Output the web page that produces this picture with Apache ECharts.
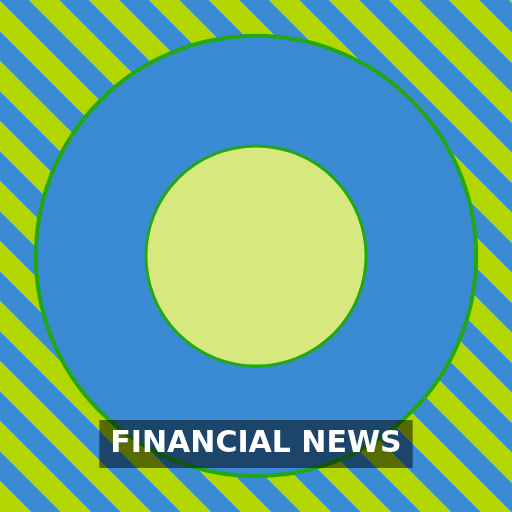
<!DOCTYPE html>
<html>
<head>
<meta charset="utf-8">
<script src="https://cdn.jsdelivr.net/npm/echarts@6/dist/echarts.min.js"></script>
<style>html,body{margin:0;padding:0;}#main{width:512px;height:512px;}</style>
</head>
<body>
<div id="main"></div>
<script>
const titleText = 'FINANCIAL NEWS';
const outerData = [{ name: 'Outer', value: 1 }];
const innerData = [{ name: 'Inner', value: 1 }];

// diagonal stripes as a hard-stop linear gradient (decoration only)
const BLUE = '#3a8bd4', LIME = '#b1d600';
const stops = [];
const span = 1024, period = 60, limeW = 31;
for (let s = 0; s < span; s += period) {
  const a = s / span, b = Math.min((s + limeW) / span, 1), e = Math.min((s + period) / span, 1);
  stops.push({ offset: a, color: LIME }, { offset: b, color: LIME });
  if (b < 1) stops.push({ offset: b, color: BLUE }, { offset: e, color: BLUE });
}
const stripeFill = { type: 'linear', x: 0, y: 512, x2: 512, y2: 0, global: true, colorStops: stops };

const chart = echarts.init(document.getElementById('main'));
chart.setOption({
  backgroundColor: BLUE,
  animation: false,
  graphic: [{
    type: 'rect',
    silent: true,
    z: -100,
    shape: { x: 0, y: 0, width: 512, height: 512 },
    style: { fill: stripeFill }
  }],
  title: {
    text: titleText,
    left: 'center',
    bottom: 44,
    padding: [9, 11],
    backgroundColor: 'rgba(0,0,0,0.5)',
    textStyle: { color: '#ffffff', fontSize: 30, fontWeight: 'bold', fontFamily: 'DejaVu Sans' }
  },
  series: [
    {
      type: 'pie',
      radius: [0, '86%'],
      center: ['50%', '50%'],
      silent: true,
      label: { show: false },
      labelLine: { show: false },
      itemStyle: { color: BLUE, borderColor: '#22a812', borderWidth: 4 },
      data: outerData
    },
    {
      type: 'pie',
      radius: [0, '43%'],
      center: ['50%', '50%'],
      silent: true,
      label: { show: false },
      labelLine: { show: false },
      itemStyle: { color: '#d7e87e', borderColor: '#22a812', borderWidth: 3 },
      data: innerData
    }
  ]
});
</script>
</body>
</html>
